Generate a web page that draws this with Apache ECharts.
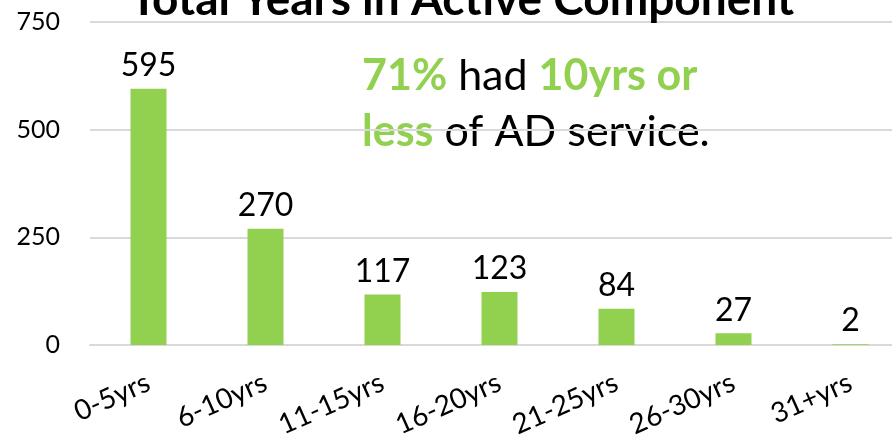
<!DOCTYPE html>
<html>
<head>
<meta charset="utf-8">
<script src="https://cdn.jsdelivr.net/npm/echarts@6/dist/echarts.min.js"></script>
<style>
  html, body { margin: 0; padding: 0; background: #fff; }
  #chart { width: 892px; height: 439px; }
</style>
</head>
<body>
<div id="chart"></div>
<script>
const CATEGORIES = ['0-5yrs', '6-10yrs', '11-15yrs', '16-20yrs', '21-25yrs', '26-30yrs', '31+yrs'];
const COUNTS = [595, 270, 117, 123, 84, 27, 2];
const Y_TICKS = [0, 250, 500, 750];

const GREEN = '#92d050';
const FONT = 'Lato, "Open Sans", sans-serif';

const chart = echarts.init(document.getElementById('chart'));

const option = {
    animation: false,
    textStyle: { fontFamily: FONT },
    title: {
        text: 'Total Years in Active Component',
        left: 125,
        top: -28,
        textStyle: { fontSize: 46, fontWeight: 'bold', color: '#000', fontFamily: FONT }
    },
    grid: {
        left: 90,
        top: 22,
        width: 819,
        bottom: 94,
        outerBoundsMode: 'none'
    },
    xAxis: {
        type: 'category',
        data: CATEGORIES,
        axisLine: { lineStyle: { color: '#d9d9d9', width: 2 } },
        axisTick: { show: false },
        axisLabel: {
            rotate: 24,
            color: '#000',
            fontSize: 28,
            margin: 36
        }
    },
    yAxis: {
        type: 'value',
        min: Y_TICKS[0],
        max: Y_TICKS[Y_TICKS.length - 1],
        interval: 250,
        axisLine: { show: false },
        axisTick: { show: false },
        splitLine: { lineStyle: { color: '#d9d9d9', width: 2 } },
        axisLabel: { color: '#000', fontSize: 25, margin: 30 }
    },
    series: [{
        type: 'bar',
        data: COUNTS,
        barWidth: 36,
        itemStyle: { color: GREEN },
        label: {
            show: true,
            position: 'top',
            distance: 7,
            color: '#000',
            fontSize: 32
        }
    }],
    graphic: [{
        type: 'text',
        left: 362,
        top: 55,
        style: {
            text: '{g|71%}{k| had }{g|10yrs or}\n{g|less}{k| of AD service.}',
            rich: {
                g: { fill: GREEN, fontWeight: 'bold', fontSize: 43, fontFamily: FONT, lineHeight: 56 },
                k: { fill: '#000', fontSize: 43, fontFamily: FONT, lineHeight: 56 }
            }
        }
    }]
};

chart.setOption(option);
</script>
</body>
</html>
